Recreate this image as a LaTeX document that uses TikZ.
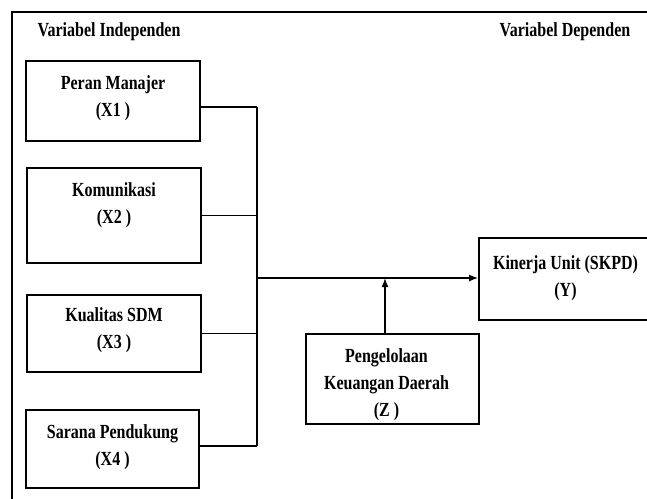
\documentclass[tikz,border=0pt]{standalone}
\usepackage{fontspec}
\usepackage{graphicx}
\setmainfont{Liberation Serif}
\usetikzlibrary{positioning, arrows.meta}
\newcommand{\nar}[1]{\scalebox{0.8}[1]{#1}}

\begin{document}
\begin{tikzpicture}[x=1pt, y=-1pt, auto,
  box/.style={draw, line width=1.6pt, inner sep=0pt},
  wire/.style={line width=1.6pt},
  lbl/.style={inner sep=0pt, align=center, font=\fontsize{20}{27}\selectfont\bfseries},
  ttl/.style={inner sep=0pt, font=\fontsize{20}{22}\selectfont\bfseries}]
\useasboundingbox (0,0) rectangle (647,498);
\draw[line width=2.4pt] (12,520) -- (12,12) -- (670,12);

\node[ttl] (ti) at (109,32) {\nar{Variabel Independen}};
\node[ttl] (td) at (565,32) {\nar{Variabel Dependen}};

\node[box, minimum width=174, minimum height=80] (x1) at (113,101) {};
\node[box, minimum width=174, minimum height=95] (x2) at (114,215.5) {};
\node[box, minimum width=174, minimum height=77] (x3) at (114,333.5) {};
\node[box, minimum width=173, minimum height=78] (x4) at (112.5,449) {};
\node[box, minimum width=181, minimum height=82] (y) at (569.5,279) {};
\node[box, minimum width=173, minimum height=90] (z) at (392.5,379) {};

\node[lbl, below=15pt of x1.north] (x1t) {\nar{Peran Manajer}\\\nar{(X1 )}};
\node[lbl, below=15pt of x2.north] (x2t) {\nar{Komunikasi}\\\nar{(X2 )}};
\node[lbl, below=13pt of x3.north] (x3t) {\nar{Kualitas SDM}\\\nar{(X3 )}};
\node[lbl, below=15pt of x4.north] (x4t) {\nar{Sarana Pendukung}\\\nar{(X4 )}};
\node[lbl, below=18pt of y.north, xshift=-4pt] (yt) {\nar{Kinerja Unit (SKPD)}\\\nar{(Y)}};
\node[lbl, below=15pt of z.north, xshift=-6pt] (zt) {\nar{Pengelolaan}\\\nar{Keuangan Daerah}\\\nar{(Z )}};

\coordinate (bus) at (257,278);
\coordinate (b1) at ([yshift=-6pt]x1.east -| bus);
\coordinate (b4) at ([yshift=3pt]x4.east -| bus);
\draw[wire] ([yshift=-6pt]x1.east) -- (b1);
\draw[wire] (x2.east) -- (x2.east -| bus);
\draw[wire] (x3.east) -- (x3.east -| bus);
\draw[wire] ([yshift=3pt]x4.east) -- (b4);
\draw[wire] (b1) -- (b4);
\draw[wire, -{Latex[length=9pt, width=7pt]}] (bus) -- (bus -| y.west);
\draw[wire, -{Latex[length=9pt, width=7pt]}] ([xshift=-7.5pt]z.north) -- ([xshift=-7.5pt]z.north |- bus);
\end{tikzpicture}
\end{document}
